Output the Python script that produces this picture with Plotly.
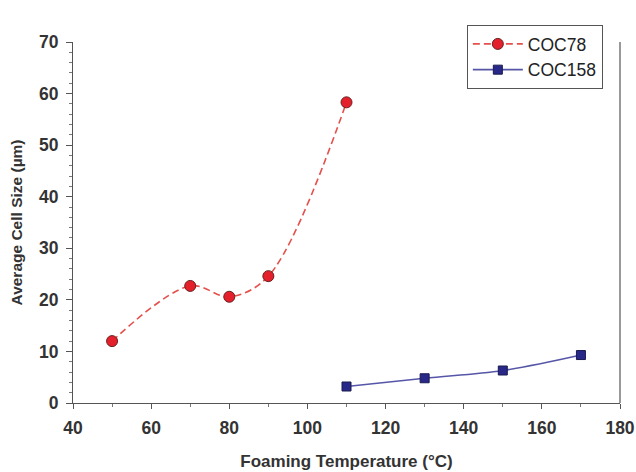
import plotly.graph_objects as go

coc78_x = [50, 70, 80, 90, 110]
coc78_y = [12.0, 22.7, 20.6, 24.6, 58.3]
coc158_x = [110, 130, 150, 170]
coc158_y = [3.2, 4.8, 6.3, 9.3]

x_ticks = [40, 60, 80, 100, 120, 140, 160, 180]
y_ticks = [0, 10, 20, 30, 40, 50, 60, 70]

fig = go.Figure()
fig.add_trace(go.Scatter(
    x=coc78_x, y=coc78_y, name="COC78", mode="lines+markers",
    line=dict(color="#e4504c", width=1.6, dash="7px,4px", shape="spline", smoothing=1.0),
    marker=dict(symbol="circle", size=11, color="#e3202b", line=dict(color="#6b2020", width=1)),
))
fig.add_trace(go.Scatter(
    x=coc158_x, y=coc158_y, name="COC158", mode="lines+markers",
    line=dict(color="#5656a8", width=1.6, shape="spline", smoothing=1.0),
    marker=dict(symbol="square", size=9, color="#282888", line=dict(color="#1a1a50", width=1)),
))

font_family = "Liberation Sans, Arial, sans-serif"
fig.update_layout(
    width=636, height=472,
    margin=dict(l=73, r=16, t=42, b=69, autoexpand=False),
    paper_bgcolor="white", plot_bgcolor="white",
    font=dict(family=font_family, color="#333333"),
    showlegend=True,
    legend=dict(
        x=0.72, y=1.047, xanchor="left", yanchor="top",
        bordercolor="#555555", borderwidth=1, bgcolor="white",
        font=dict(size=17.5, color="#222222"),
        itemwidth=50, tracegroupgap=0,
    ),
    xaxis=dict(
        range=[40, 180], tickvals=x_ticks, showgrid=False, zeroline=False,
        showline=True, linecolor="#555555", linewidth=1.2,
        ticks="outside", ticklen=5, tickcolor="#555555",
        ticklabelstandoff=4,
        minor=dict(dtick=10, ticks="outside", ticklen=3, tickcolor="#777777"),
        tickfont=dict(size=17.5, color="#333333", family=font_family, weight="bold"),
        title=dict(text="<b>Foaming Temperature (°C)</b>", font=dict(size=17, color="#333333"), standoff=18),
    ),
    yaxis=dict(
        range=[0, 70], tickvals=y_ticks, showgrid=False, zeroline=False,
        showline=True, linecolor="#555555", linewidth=1.2,
        ticks="outside", ticklen=6, tickcolor="#555555",
        ticklabelstandoff=4,
        minor=dict(dtick=2, ticks="outside", ticklen=3, tickcolor="#777777"),
        tickfont=dict(size=17.5, color="#333333", family=font_family, weight="bold"),
        title=dict(text="<b>Average Cell Size (µm)</b>", font=dict(size=15.5, color="#333333"), standoff=12),
    ),
)
fig.add_shape(type="line", xref="paper", yref="paper", x0=1, x1=1, y0=0, y1=1,
              line=dict(color="#555555", width=1.2))

fig.write_html("out.html")
